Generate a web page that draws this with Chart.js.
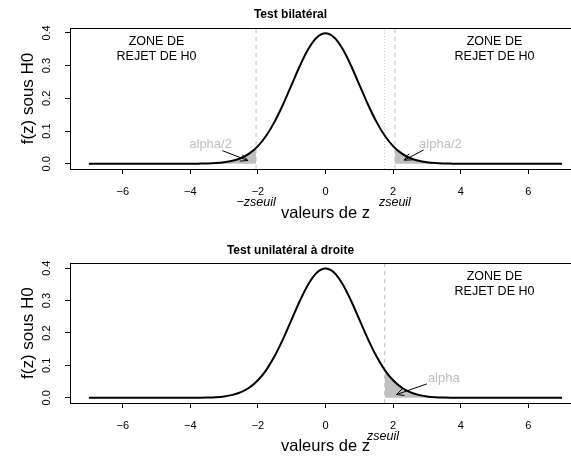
<!DOCTYPE html>
<html><head><meta charset="utf-8">
<script src="https://cdn.jsdelivr.net/npm/chart.js@4.4.1/dist/chart.umd.min.js"></script>
<style>
html,body{margin:0;padding:0;overflow:hidden;background:#fff;width:571px;height:461px;}
.w{position:absolute;left:0;width:652px;}
#w1{top:0;height:230px}
#w2{top:230px;height:231px}
canvas{display:block}
</style></head><body>
<div class="w" id="w1"><canvas id="c1" width="652" height="230"></canvas></div>
<div class="w" id="w2"><canvas id="c2" width="652" height="231"></canvas></div>
<script>
// ---- data ----
const zValues = [-7,-6,-5,-4.5,-4,-3.75,-3.5,-3.25,-3,-2.75,-2.5,-2.25,-2,-1.75,-1.5,-1.25,-1,-0.75,-0.5,-0.25,
                 0,0.25,0.5,0.75,1,1.25,1.5,1.75,2,2.25,2.5,2.75,3,3.25,3.5,3.75,4,4.5,5,6,7];
const densityValues = [0,0,0,0,0.0001,0.0004,0.0009,0.002,0.0044,0.0091,0.0175,0.0317,0.054,0.0863,0.1295,0.1826,0.242,0.3011,0.3521,0.3867,
                 0.3989,0.3867,0.3521,0.3011,0.242,0.1826,0.1295,0.0863,0.054,0.0317,0.0175,0.0091,0.0044,0.002,0.0009,0.0004,0.0001,0,0,0,0];

const zseuilBilateral = 2.054;
const zseuilUnilateral = 1.751;

const leftTailZ  = [-7,-5,-4,-3.5,-3.25,-3,-2.75,-2.5,-2.25,-2.054];
const leftTailF  = [0,0,0.0001,0.0009,0.002,0.0044,0.0091,0.0175,0.0317,0.0484];
const rightTailZ = [2.054,2.25,2.5,2.75,3,3.25,3.5,4,5,7];
const rightTailF = [0.0484,0.0317,0.0175,0.0091,0.0044,0.002,0.0009,0.0001,0,0];
const uniTailZ   = [1.751,2,2.25,2.5,2.75,3,3.25,3.5,4,5,7];
const uniTailF   = [0.0862,0.054,0.0317,0.0175,0.0091,0.0044,0.002,0.0009,0.0001,0,0];

const xTickValues = [-6,-4,-2,0,2,4,6];
const xTickLabels = ['\u22126','\u22124','\u22122','0','2','4','6'];
const yTickValues = [0,0.1,0.2,0.3,0.4];
const yTickLabels = ['0.0','0.1','0.2','0.3','0.4'];

const titles = ['Test bilatéral','Test unilatéral à droite'];
const xTitle = 'valeurs de z';
const yTitle = 'f(z) sous H0';
const zoneText = ['ZONE DE','REJET DE H0'];

// ---- helpers ----
const FONT = "'Liberation Sans', Arial, Helvetica, sans-serif";
const X_MIN = -7.56, X_MAX = 7.56, Y_MIN = -0.016, Y_MAX = 0.415;
const GREY = '#bebebe';
const pts = (xs, ys) => xs.map((v, i) => ({x: v, y: ys[i]}));
const vline = (v) => [{x: v, y: Y_MIN}, {x: v, y: Y_MAX}];

const annotPlugin = {
  id: 'annot',
  afterDraw(chart, args, o) {
    const {ctx, chartArea: ca, scales: {x, y}} = chart;
    ctx.save();
    // top border of box (bty = "c")
    ctx.strokeStyle = '#000'; ctx.lineWidth = 1;
    const ty = Math.round(ca.top) + 0.5;
    ctx.beginPath(); ctx.moveTo(ca.left, ty); ctx.lineTo(ca.right, ty); ctx.stroke();
    // texts in data coordinates
    ctx.textAlign = 'center'; ctx.textBaseline = 'middle';
    for (const t of (o.texts || [])) {
      ctx.font = t.font; ctx.fillStyle = t.color;
      const px = x.getPixelForValue(t.x), py = y.getPixelForValue(t.y);
      const n = t.lines.length;
      t.lines.forEach((s, i) => ctx.fillText(s, px, py + (i - (n - 1) / 2) * t.lh));
    }
    // arrows
    ctx.strokeStyle = '#000'; ctx.lineWidth = 1;
    for (const a of (o.arrows || [])) {
      const x0 = x.getPixelForValue(a[0]), y0 = y.getPixelForValue(a[1]);
      const x1 = x.getPixelForValue(a[2]), y1 = y.getPixelForValue(a[3]);
      const ang = Math.atan2(y1 - y0, x1 - x0), L = 8, sp = Math.PI / 7;
      ctx.beginPath(); ctx.moveTo(x0, y0); ctx.lineTo(x1, y1);
      ctx.moveTo(x1 - L * Math.cos(ang - sp), y1 - L * Math.sin(ang - sp));
      ctx.lineTo(x1, y1);
      ctx.lineTo(x1 - L * Math.cos(ang + sp), y1 - L * Math.sin(ang + sp));
      ctx.stroke();
    }
    // margin notes under the x axis
    ctx.font = 'italic 12.5px ' + FONT; ctx.fillStyle = '#000';
    for (const m of (o.notes || [])) {
      ctx.fillText(m.text, x.getPixelForValue(m.x), ca.bottom + m.dy);
    }
    ctx.restore();
  }
};

function makeChart(id, cfg) {
  const datasets = [
    {data: pts(zValues, densityValues), borderColor: '#000', borderWidth: 2, pointRadius: 0,
     cubicInterpolationMode: 'monotone', fill: false, order: 0}
  ];
  cfg.tails.forEach(tl => datasets.push({data: pts(tl[0], tl[1]), borderWidth: 0, borderColor: 'rgba(0,0,0,0)',
     backgroundColor: '#c0c0c0', pointRadius: 0, cubicInterpolationMode: 'monotone', fill: 'origin', order: 5}));
  cfg.vlines.forEach(v => datasets.push({data: vline(v.x), borderColor: v.color, borderWidth: 1,
     borderDash: v.dash, pointRadius: 0, fill: false, order: 2}));

  return new Chart(document.getElementById(id), {
    type: 'line',
    data: {datasets},
    plugins: [annotPlugin],
    options: {
      responsive: false, animation: false, events: [],
      layout: {padding: {left: 0, right: 71, top: 0, bottom: cfg.padBottom}},
      plugins: {
        legend: {display: false}, tooltip: {enabled: false},
        title: {display: true, text: cfg.title, color: '#000',
                font: {family: FONT, size: 12, weight: 'bold'}, padding: cfg.titlePad},
        annot: cfg.annot
      },
      scales: {
        x: {type: 'linear', min: X_MIN, max: X_MAX,
            afterBuildTicks: s => { s.ticks = xTickValues.map(v => ({value: v})); },
            afterFit: s => { s.height = cfg.xHeight; },
            ticks: {callback: (v, i) => xTickLabels[i], color: '#000', padding: 11,
                    font: {family: FONT, size: 11}, maxRotation: 0, autoSkip: false},
            grid: {display: true, drawOnChartArea: false, drawTicks: true, tickLength: 5, color: '#000'},
            border: {display: true, color: '#000', width: 1},
            title: {display: true, text: xTitle, color: '#000', font: {family: FONT, size: 16.5},
                    padding: {top: 0, bottom: 0}}},
        y: {type: 'linear', min: Y_MIN, max: Y_MAX,
            afterBuildTicks: s => { s.ticks = yTickValues.map(v => ({value: v})); },
            afterFit: s => { s.width = 70; },
            ticks: {callback: (v, i) => yTickLabels[i], color: '#000', padding: 10, crossAlign: 'center',
                    minRotation: 90, maxRotation: 90, font: {family: FONT, size: 11}, autoSkip: false},
            grid: {display: true, drawOnChartArea: false, drawTicks: true, tickLength: 5, color: '#000'},
            border: {display: true, color: '#000', width: 1},
            title: {display: true, text: yTitle, color: '#000', font: {family: FONT, size: 17},
                    padding: {top: 18, bottom: 0}}}
      }
    }
  });
}

const zoneFont = '12.5px ' + FONT, alphaFont = '13px ' + FONT;

makeChart('c1', {
  title: titles[0], titlePad: {top: 7, bottom: 6.6}, padBottom: 7, xHeight: 54,
  tails: [[leftTailZ, leftTailF], [rightTailZ, rightTailF]],
  vlines: [{x: -zseuilBilateral, color: GREY, dash: [4, 4]},
           {x: zseuilBilateral, color: GREY, dash: [4, 4]},
           {x: zseuilUnilateral, color: '#c4c4c4', dash: [1, 2]}],
  annot: {
    texts: [{x: -5, y: 0.35, lines: zoneText, font: zoneFont, color: '#000', lh: 15},
            {x: 5, y: 0.35, lines: zoneText, font: zoneFont, color: '#000', lh: 15},
            {x: -3.4, y: 0.06, lines: ['alpha/2'], font: alphaFont, color: GREY, lh: 15},
            {x: 3.4, y: 0.06, lines: ['alpha/2'], font: alphaFont, color: GREY, lh: 15}],
    arrows: [[-3.05, 0.04, -2.3, 0.01], [2.9, 0.042, 2.33, 0.011]],
    notes: [{x: -zseuilBilateral, dy: 34, text: '\u2212zseuil'}, {x: zseuilBilateral, dy: 34, text: 'zseuil'}]
  }
});

makeChart('c2', {
  title: titles[1], titlePad: {top: 13.5, bottom: 5.4}, padBottom: 5, xHeight: 53,
  tails: [[uniTailZ, uniTailF]],
  vlines: [{x: zseuilUnilateral, color: GREY, dash: [4, 4]}],
  annot: {
    texts: [{x: 5, y: 0.35, lines: zoneText, font: zoneFont, color: '#000', lh: 15},
            {x: 3.5, y: 0.06, lines: ['alpha'], font: alphaFont, color: GREY, lh: 15}],
    arrows: [[3.0, 0.043, 2.1, 0.01]],
    notes: [{x: zseuilUnilateral - 0.05, dy: 34, text: 'zseuil'}]
  }
});
</script>
</body></html>
